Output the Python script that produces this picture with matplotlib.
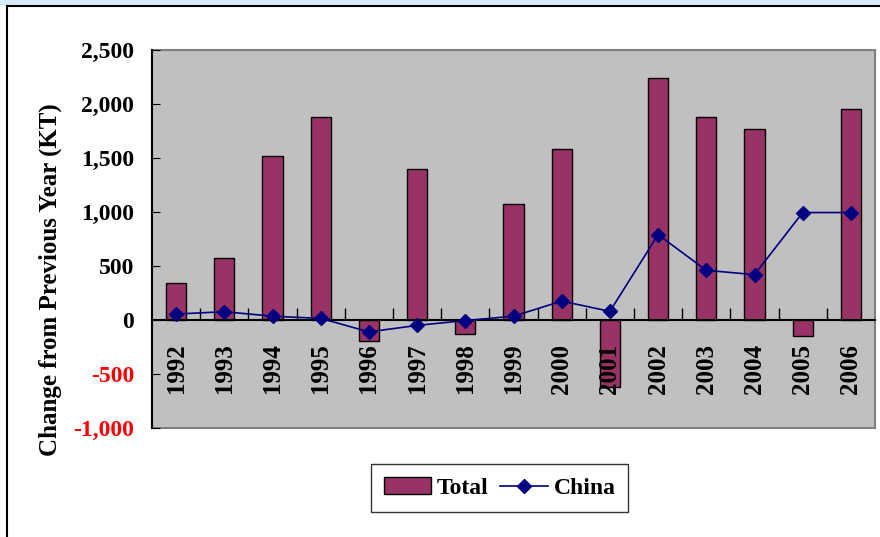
import matplotlib.pyplot as plt
from matplotlib.patches import Patch, Rectangle
from matplotlib.lines import Line2D
from matplotlib.ticker import FuncFormatter, FixedLocator

plt.rcParams['font.family'] = ['Liberation Serif', 'DejaVu Serif']
plt.rcParams['font.weight'] = 'bold'

years = ["1992", "1993", "1994", "1995", "1996", "1997", "1998", "1999",
         "2000", "2001", "2002", "2003", "2004", "2005", "2006"]
total = [343, 575, 1520, 1875, -195, 1400, -130, 1075,
         1585, -620, 2245, 1875, 1770, -150, 1950]
china = [55, 77, 35, 15, -110, -50, -5, 35,
         175, 80, 790, 460, 420, 995, 995]

fig = plt.figure(figsize=(8.8, 5.37), dpi=100)

# frame of the slide / chart area
fig.patches.append(Rectangle((0, 1 - 5 / 537), 1, 5 / 537, transform=fig.transFigure,
                             facecolor='#d6ebfa', edgecolor='none', zorder=0))
fig.lines.append(Line2D([6.5 / 880, 6.5 / 880], [0, 1 - 5.5 / 537],
                        transform=fig.transFigure, color='black', lw=1.5))
fig.lines.append(Line2D([6.5 / 880, 1], [1 - 5.5 / 537, 1 - 5.5 / 537],
                        transform=fig.transFigure, color='black', lw=1.5))

ax = fig.add_axes([152 / 880, 1 - 428 / 537, 723 / 880, 378 / 537])
ax.set_facecolor('#c0c0c0')
ax.patch.set_edgecolor('#808080')
ax.patch.set_linewidth(1.5)
ax.set_axisbelow(False)

x = list(range(len(years)))
ax.bar(x, total, width=0.42, color='#993366', edgecolor='black', linewidth=1, zorder=2)
ax.plot(x, china, color='#000080', lw=1.2, marker='D', markersize=7, zorder=3)

ax.set_xlim(-0.5, len(years) - 0.5)
ax.set_ylim(-1000, 2500)
ax.set_yticks(range(-1000, 2501, 500))
ax.yaxis.set_major_formatter(FuncFormatter(lambda v, p: f"{int(v):,}"))
ax.tick_params(axis='y', direction='in', length=6, labelsize=17, pad=13)

# x axis sits on the zero line
ax.spines['bottom'].set_position(('data', 0))
ax.spines['bottom'].set_color('black')
ax.spines['bottom'].set_linewidth(1.5)
ax.spines['left'].set_color('black')
ax.spines['left'].set_linewidth(1.5)
ax.spines['top'].set_color('#808080')
ax.spines['right'].set_color('#808080')
ax.xaxis.set_major_locator(FixedLocator([i + 0.5 for i in x[:-1]]))
ax.xaxis.set_major_formatter(FuncFormatter(lambda v, p: ""))
ax.xaxis.set_minor_locator(FixedLocator(x))
ax.set_xticklabels(years, minor=True, rotation=90, fontsize=18)
ax.tick_params(axis='x', which='major', direction='in', length=9, width=1)
ax.tick_params(axis='x', which='minor', length=0, pad=17)

fig.text(50 / 880, 1 - 280 / 537, "Change from Previous Year (KT)", rotation=90,
         fontsize=18, fontweight='bold', ha='center', va='center')

handles = [Patch(facecolor='#993366', edgecolor='black', label='Total'),
           Line2D([], [], color='#000080', lw=1.2, marker='D', markersize=7, label='China')]
fig.legend(handles=handles, loc='center', bbox_to_anchor=(499.5 / 880, 1 - 488 / 537),
           ncol=2, fontsize=17, frameon=True, fancybox=False, edgecolor='black',
           handlelength=2.0, handleheight=0.7, columnspacing=0.5, handletextpad=0.25,
           borderpad=0.55, borderaxespad=0)

for lbl in ax.get_yticklabels():
    if '-' in lbl.get_text() or '\u2212' in lbl.get_text():
        lbl.set_color('red')

fig.savefig('out.png', dpi=100)
